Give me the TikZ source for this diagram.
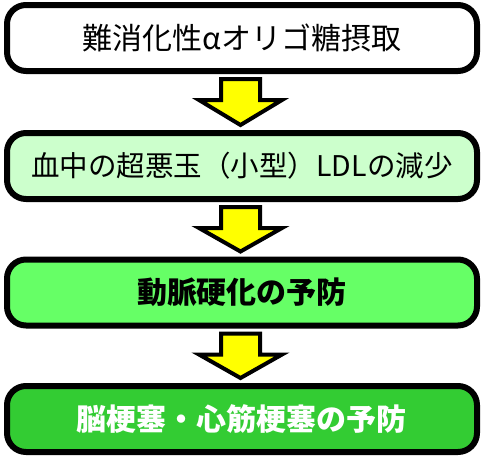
\documentclass[tikz,border=0pt]{standalone}
\usepackage{fontspec}
\newfontfamily\jp{Noto Sans CJK JP}
\usetikzlibrary{calc}
\definecolor{boxA}{HTML}{FFFFFF}
\definecolor{boxB}{HTML}{CCFFCC}
\definecolor{boxC}{HTML}{66FF66}
\definecolor{boxD}{HTML}{33CC33}
\definecolor{arrowfill}{HTML}{FFFF00}
\tikzset{
  stagebox/.style={draw=black, line width=6pt, rounded corners=19pt,
    minimum width=470pt, minimum height=66pt, inner sep=0pt, outer sep=0pt,
    font=\jp\fontsize{30}{32}\selectfont},
  blockarrow/.style={draw=black, line width=4pt, fill=arrowfill, line join=miter}
}
\newcommand\downarrowbetween[2]{%
  \draw[blockarrow]
    ($(#1.south)+(-21,8)$) -- ($(#1.south)+(18,8)$) --
    ($(#1.south)+(18,29)$) -- ($(#1.south)+(40,29)$) --
    ($(#2.north)+(-1.5,-8)$) --
    ($(#1.south)+(-43,29)$) -- ($(#1.south)+(-21,29)$) -- cycle;}
\begin{document}
\begin{tikzpicture}[x=1pt,y=-1pt]
\useasboundingbox (0,0) rectangle (483,459);
\node[stagebox, fill=boxA] (b1) at (242,38) {難消化性αオリゴ糖摂取};
\node[stagebox, fill=boxB, font=\jp\fontsize{28.5}{31}\selectfont] (b2) at (242,166) {血中の超悪玉（小型）LDLの減少};
\node[stagebox, fill=boxC, font=\jp\bfseries\fontsize{30}{32}\selectfont] (b3) at (242,292.5) {動脈硬化の予防};
\node[stagebox, fill=boxD, text=white, font=\jp\bfseries\fontsize{30}{32}\selectfont] (b4) at (242,419) {脳梗塞・心筋梗塞の予防};
\downarrowbetween{b1}{b2}
\downarrowbetween{b2}{b3}
\downarrowbetween{b3}{b4}
\end{tikzpicture}
\end{document}
